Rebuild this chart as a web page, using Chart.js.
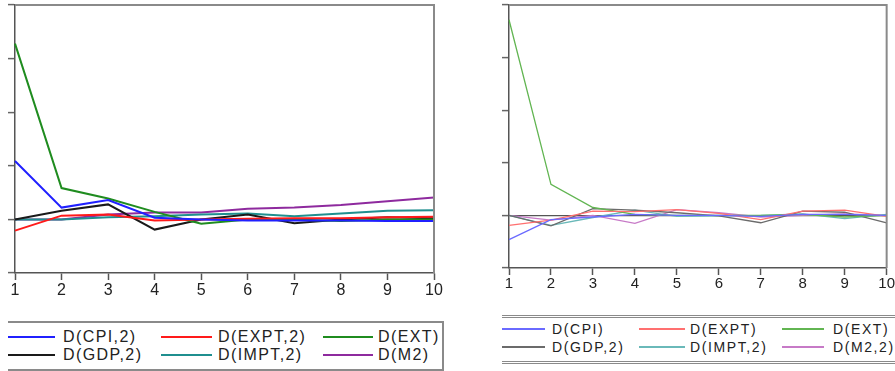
<!DOCTYPE html>
<html>
<head>
<meta charset="utf-8">
<script src="https://cdn.jsdelivr.net/npm/chart.js@4"></script>
<style>
  body { margin: 0; background: #fff; width: 895px; height: 371px; overflow: hidden; position: relative; font-family: "Liberation Sans", Arial, sans-serif; }
  .box { position: absolute; }
  .leg { position: absolute; color: #222; white-space: nowrap; }
  .leg .it { position: absolute; }
  .leg .ln { position: absolute; }
</style>
</head>
<body>
<div class="box" style="left:0;top:0;width:450px;height:300px;"><canvas id="left"></canvas></div>
<div class="box" style="left:480px;top:0;width:415px;height:300px;"><canvas id="right"></canvas></div>
<div id="legLeft" class="leg"></div>
<div id="legRight" class="leg"></div>

<script>
// periods
const periods = ["1", "2", "3", "4", "5", "6", "7", "8", "9", "10"];

// left panel
const namesA = ["D(CPI,2)", "D(EXPT,2)", "D(EXT)", "D(GDP,2)", "D(IMPT,2)", "D(M2)"];
const cpiA  = [1.09, 0.22, 0.36, 0.03, 0.00, -0.02, -0.02, -0.02, -0.03, -0.03];
const exptA = [-0.21, 0.07, 0.09, -0.02, 0.00, 0.01, 0.02, 0.02, 0.04, 0.05];
const extA  = [3.28, 0.585, 0.39, 0.14, -0.08, 0.00, 0.00, -0.03, 0.00, 0.00];
const gdpA  = [0.00, 0.16, 0.28, -0.19, 0.00, 0.09, -0.07, 0.00, 0.04, 0.02];
const imptA = [0.00, 0.00, 0.04, 0.06, 0.09, 0.11, 0.06, 0.11, 0.16, 0.17];
const m2A   = [0.00, 0.00, 0.09, 0.13, 0.13, 0.20, 0.22, 0.27, 0.34, 0.41];

// right panel
const namesB = ["D(CPI)", "D(EXPT)", "D(EXT)", "D(GDP,2)", "D(IMPT,2)", "D(M2,2)"];
const cpiB  = [-0.46, -0.08, -0.03, 0.02, 0.00, 0.00, -0.02, 0.02, 0.02, 0.00];
const exptB = [-0.19, -0.09, 0.08, 0.07, 0.11, 0.04, -0.08, 0.08, 0.10, -0.02];
const extB  = [3.72, 0.59, 0.15, 0.02, 0.00, 0.00, 0.00, 0.02, -0.03, 0.00];
const gdpB  = [0.00, -0.20, 0.13, 0.10, 0.05, -0.01, -0.14, 0.08, 0.06, -0.14];
const imptB = [0.00, -0.19, -0.04, 0.10, -0.02, -0.01, 0.00, 0.03, -0.06, 0.02];
const m2B   = [0.00, -0.09, 0.00, -0.15, 0.11, 0.05, -0.03, 0.00, 0.03, 0.00];

const coresA = ["#2020ff", "#ff1a1a", "#1f8c1f", "#1a1a1a", "#1f8f8f", "#8e2a9e"];
const coresB = ["#6a6aff", "#ff7070", "#62b552", "#6b6b6b", "#6ab9b9", "#c77ac7"];

// moldura superior e direita
const moldura = {
    id: "moldura",
    afterDraw(chart, args, opts){
        const a = chart.chartArea;
        const ctx = chart.ctx;
        ctx.save();
        ctx.strokeStyle = opts.color;
        ctx.lineWidth = opts.width;
        ctx.beginPath();
        ctx.moveTo(a.left, a.top);
        ctx.lineTo(a.right, a.top);
        ctx.lineTo(a.right, a.bottom);
        ctx.stroke();
        ctx.restore();
    }
};

function criarPainel(id, series, nomes, cores, cfg){
    const datasets = series.map((s, i) => ({
        label: nomes[i],
        data: s,
        borderColor: cores[i],
        borderWidth: cfg.lw,
        pointRadius: 0,
        tension: 0,
        fill: false
    }));
    return new Chart(document.getElementById(id), {
        type: "line",
        data: { labels: periods, datasets: datasets },
        plugins: [moldura],
        options: {
            responsive: true,
            maintainAspectRatio: false,
            animation: false,
            events: [],
            layout: { padding: cfg.pad },
            plugins: {
                legend: { display: false },
                tooltip: { enabled: false },
                moldura: { color: "#8a8a8a", width: 2 }
            },
            scales: {
                x: {
                    offset: false,
                    afterFit: s => { s.height = cfg.xh; },
                    grid: { drawOnChartArea: false, tickLength: 7, tickColor: "#555", tickWidth: 1.5 },
                    border: { color: "#555", width: 1.5 },
                    ticks: {
                        color: "#222",
                        padding: cfg.xpad,
                        maxRotation: 0,
                        autoSkip: false,
                        font: { family: "Liberation Sans, Arial", size: cfg.fs }
                    }
                },
                y: {
                    min: -1,
                    max: 4,
                    afterFit: s => { s.width = cfg.yw; },
                    ticks: { stepSize: 1, display: false },
                    grid: {
                        drawOnChartArea: true,
                        tickLength: 7,
                        tickColor: "#666",
                        tickWidth: 1.5,
                        color: c => (c.tick && c.tick.value === 0 && cfg.zero) ? "#555" : "rgba(0,0,0,0)",
                        lineWidth: 1.2
                    },
                    border: { color: "#555", width: 1.5 }
                }
            }
        }
    });
}

criarPainel("left", [cpiA, exptA, extA, gdpA, imptA, m2A], namesA, coresA,
    { lw: 2, pad: { top: 5, right: 16, left: 0, bottom: 0 }, xh: 27, yw: 15, fs: 16, xpad: 1, zero: false });

criarPainel("right", [cpiB, exptB, extB, gdpB, imptB, m2B], namesB, coresB,
    { lw: 1.3, pad: { top: 5, right: 8, left: 0, bottom: 0 }, xh: 32, yw: 29, fs: 15, xpad: 0, zero: true });

// legendas em HTML
function criarLegenda(id, nomes, cores, cfg){
    const el = document.getElementById(id);
    Object.assign(el.style, {
        left: cfg.left + "px", top: cfg.top + "px", width: cfg.w + "px", height: cfg.h + "px",
        borderTop: cfg.border, borderBottom: cfg.border, borderRight: cfg.right || "none",
        fontSize: cfg.fs + "px", letterSpacing: cfg.ls + "px"
    });
    nomes.forEach((n, i) => {
        const col = i % 3, row = Math.floor(i / 3);
        const y = cfg.rows[row];
        const ln = document.createElement("div");
        ln.className = "ln";
        Object.assign(ln.style, {
            left: cfg.lx[col] + "px", top: (y - 1) + "px", width: cfg.lwid[col] + "px",
            height: cfg.lh + "px", background: cores[i]
        });
        el.appendChild(ln);
        const t = document.createElement("div");
        t.className = "it";
        t.textContent = n;
        Object.assign(t.style, { left: cfg.tx[col] + "px", top: (y - cfg.fs * 0.58) + "px", lineHeight: "1.15" });
        el.appendChild(t);
    });
}

criarLegenda("legLeft", namesA, coresA, {
    left: 8, top: 321, w: 434, h: 46, border: "2px solid #8a8a8a", right: "2px solid #8a8a8a",
    fs: 16, ls: 1.4, rows: [14, 32], lx: [0, 153, 315], lwid: [47, 51, 50], tx: [55, 210, 370], lh: 2
});

criarLegenda("legRight", namesB, coresB, {
    left: 502, top: 315, w: 400, h: 43, border: "3px double #8a8a8a",
    fs: 14, ls: 1.6, rows: [11, 29], lx: [0, 137, 280], lwid: [43, 46, 42], tx: [50, 188, 331], lh: 1.5
});
</script>
</body>
</html>
